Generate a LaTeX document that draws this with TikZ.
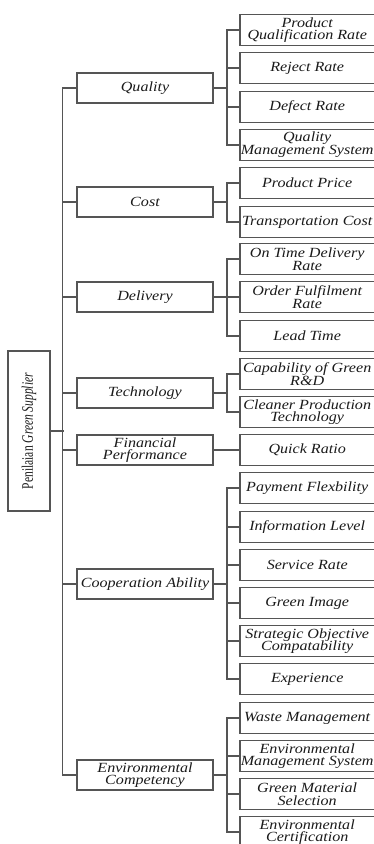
\documentclass[tikz,border=0pt]{standalone}
\usepackage{fontspec}
\setmainfont{Liberation Serif}
\newfontfamily\boxfont[FakeStretch=1.15]{Liberation Serif}
\newfontfamily\rootfont[FakeStretch=0.72]{Liberation Serif}
\definecolor{ln}{HTML}{555555}
\definecolor{tx}{HTML}{1A1A1A}
\begin{document}
\begin{tikzpicture}[x=1pt,y=-1pt,
  base/.style={font=\boxfont\itshape\fontsize{14}{12.7}\selectfont, text=tx, align=center, inner sep=0pt},
  lvone/.style={base, draw=ln, line width=1.2pt, minimum width=136pt, minimum height=30pt, anchor=center},
  lvtwo/.style={base, minimum width=134pt, minimum height=30pt, anchor=west},
  conn/.style={draw=ln, line width=1.2pt}]
\useasboundingbox (0,0) rectangle (374,844);
\clip (0,0) rectangle (374,844);

% root
\node[draw=ln, line width=1.2pt, rotate=90, minimum width=160pt, minimum height=42pt, inner sep=0pt,
      font=\rootfont\fontsize{16}{16}\selectfont, text=tx] (root) at (29,431) {Penilaian \textit{Green Supplier}};

% level 1
\node[lvone] (q)   at (145,88)  {Quality};
\node[lvone] (c)   at (145,202) {Cost};
\node[lvone] (d)   at (145,297) {Delivery};
\node[lvone] (t)   at (145,393) {Technology};
\node[lvone] (f)   at (145,450) {Financial\\Performance};
\node[lvone] (co)  at (145,584) {Cooperation Ability};
\node[lvone] (e)   at (145,775) {Environmental\\Competency};

% level 2
\node[lvtwo] (q1) at (240,30)  {Product\\Qualification Rate};
\node[lvtwo] (q2) at (240,68)  {Reject Rate};
\node[lvtwo] (q3) at (240,107) {Defect Rate};
\node[lvtwo] (q4) at (240,145) {Quality\\Management System};
\node[lvtwo] (c1) at (240,183) {Product Price};
\node[lvtwo] (c2) at (240,222) {Transportation Cost};
\node[lvtwo] (d1) at (240,259) {On Time Delivery\\Rate};
\node[lvtwo] (d2) at (240,297) {Order Fulfilment\\Rate};
\node[lvtwo] (d3) at (240,336) {Lead Time};
\node[lvtwo] (t1) at (240,374) {Capability of Green\\R\&D};
\node[lvtwo] (t2) at (240,412) {Cleaner Production\\Technology};
\node[lvtwo] (f1) at (240,450) {Quick Ratio};
\node[lvtwo] (o1) at (240,488) {Payment Flexbility};
\node[lvtwo] (o2) at (240,527) {Information Level};
\node[lvtwo] (o3) at (240,565) {Service Rate};
\node[lvtwo] (o4) at (240,603) {Green Image};
\node[lvtwo] (o5) at (240,641) {Strategic Objective\\Compatability};
\node[lvtwo] (o6) at (240,679) {Experience};
\node[lvtwo] (e1) at (240,718) {Waste Management};
\node[lvtwo] (e2) at (240,756) {Environmental\\Management System};
\node[lvtwo] (e3) at (240,794) {Green Material\\Selection};
\node[lvtwo] (e4) at (240,832) {Environmental\\Certification};

% open boxes for level 2 (cut by the right edge)
\foreach \n in {q1,q2,q3,q4,c1,c2,d1,d2,d3,t1,t2,f1,o1,o2,o3,o4,o5,o6,e1,e2,e3,e4}
  \draw[conn] ([xshift=10pt]\n.north east) -- (\n.north west) -- (\n.south west) -- ([xshift=10pt]\n.south east);

% root to trunk
\draw[conn] (root.south) -- ++(13,0);
\draw[conn] (q.west) -- ++(-14,0) |- (e.west);
\foreach \n in {c,d,t,f,co}
  \draw[conn] (\n.west) -- ++(-14,0);

% level 1 to level 2
\foreach \p in {q,c,d,t,co,e}
  \draw[conn] (\p.east) -- ++(14,0);
\draw[conn] (f.east) -- (f1.west);

\draw[conn] (q1.west) -- ++(-13,0) |- (q4.west);
\foreach \n in {q2,q3} \draw[conn] (\n.west) -- ++(-13,0);
\draw[conn] (c1.west) -- ++(-13,0) |- (c2.west);
\draw[conn] (d1.west) -- ++(-13,0) |- (d3.west);
\draw[conn] (d2.west) -- ++(-13,0);
\draw[conn] (t1.west) -- ++(-13,0) |- (t2.west);
\draw[conn] (o1.west) -- ++(-13,0) |- (o6.west);
\foreach \n in {o2,o3,o4,o5} \draw[conn] (\n.west) -- ++(-13,0);
\draw[conn] (e1.west) -- ++(-13,0) |- (e4.west);
\foreach \n in {e2,e3} \draw[conn] (\n.west) -- ++(-13,0);
\end{tikzpicture}
\end{document}
